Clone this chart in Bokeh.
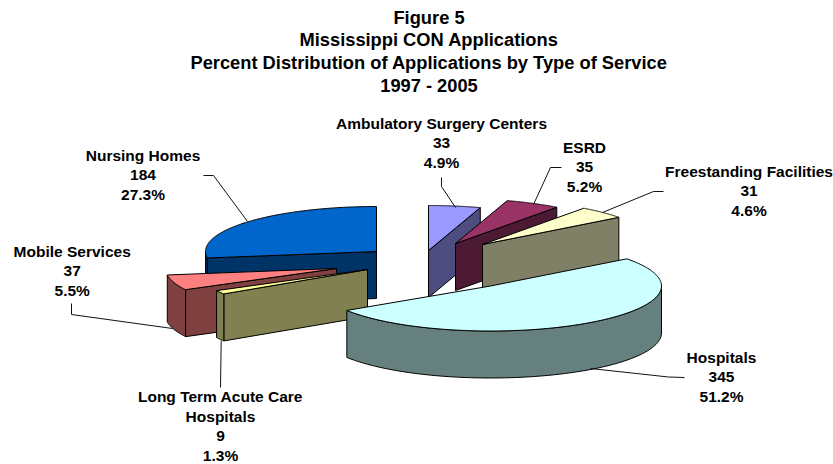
import numpy as np
from bokeh.plotting import figure
from bokeh.models import Range1d, ColumnDataSource
from bokeh.core.properties import value
from bokeh.embed import file_html
from bokeh.resources import INLINE

# ---- data (clockwise from 12 o'clock) ----
categories = ["Ambulatory Surgery Centers", "ESRD", "Freestanding Facilities", "Hospitals",
              "Long Term Acute Care Hospitals", "Mobile Services", "Nursing Homes"]
counts = [33, 35, 31, 345, 9, 37, 184]
percents = ["4.9%", "5.2%", "4.6%", "51.2%", "1.3%", "5.5%", "27.3%"]
title_lines = ["Figure 5", "Mississippi CON Applications",
               "Percent Distribution of Applications by Type of Service", "1997 - 2005"]

# ---- styles and layout ----
top_colors = ["#9999FF", "#993366", "#FFFFCC", "#CCFFFF", "#FFFF99", "#FF8080", "#0066CC"]
side_colors = ["#4D4D80", "#4D1A33", "#808066", "#668080", "#808050", "#804040", "#003366"]
CX, CY = 441.0, 266.5      # pie centre
A, B, DEPTH = 171.0, 45.0, 47.0
explode_dx = [-13, 14, 41, 49, -74, -105, -65]
explode_dy = [-16.5, -23.5, -22.5, 19, 2.5, 1.5, -15.5]
draw_order = [6, 0, 1, 2, 5, 4, 3]
FONT = value("Liberation Sans")

label_lines = [["Ambulatory Surgery Centers"], ["ESRD"], ["Freestanding Facilities"], ["Hospitals"],
               ["Long Term Acute Care", "Hospitals"], ["Mobile Services"], ["Nursing Homes"]]
label_x = [441, 584, 748.5, 721, 220, 71.7, 142.5]
label_y0 = [123, 147, 171, 357, 396, 250.7, 155]
LABEL_STEP = 19.7
leaders = [
    ([441, 441, 455], [177, 186, 207]),
    ([561, 550, 533], [167, 167, 204]),
    ([663, 653, 602], [191, 191, 212]),
    ([684, 668, 590], [377, 376.5, 368]),
    ([220.7, 220], [340, 387]),
    ([71, 71, 172], [303, 314, 328]),
    ([203, 213, 247], [175, 175, 221]),
]

p = figure(width=833, height=464, x_range=Range1d(0, 833), y_range=Range1d(464, 0),
           output_backend="svg", toolbar_location=None, min_border=0,
           background_fill_color="white", border_fill_color="white", outline_line_color=None)
p.axis.visible = False
p.grid.visible = False

total = sum(counts)
edges = np.concatenate([[0.0], np.cumsum(counts) / total * 360.0])


def pt(ax, ay, deg):
    r = np.radians(deg)
    return ax + A * np.sin(r), ay - B * np.cos(r)


def face(xs, ys, color):
    p.patch(list(xs), list(ys), fill_color=color, line_color="black", line_width=1, line_join="round")


for i in draw_order:
    a0, a1 = edges[i], edges[i + 1]
    ax, ay = CX + explode_dx[i], CY + explode_dy[i]
    # cut faces turned toward the viewer
    if a1 < 90:
        ex, ey = pt(ax, ay, a1)
        face([ax, ex, ex, ax], [ay, ey, ey + DEPTH, ay + DEPTH], side_colors[i])
    if 180 < a0 < 270:
        ex, ey = pt(ax, ay, a0)
        face([ax, ex, ex, ax], [ay, ey, ey + DEPTH, ay + DEPTH], side_colors[i])
    # outer wall
    w0, w1 = max(a0, 90.0), min(a1, 270.0)
    if w1 > w0:
        t = np.linspace(w0, w1, 120)
        wx, wy = pt(ax, ay, t)
        face(np.r_[wx, wx[::-1]], np.r_[wy, wy[::-1] + DEPTH], side_colors[i])
    # top
    t = np.linspace(a0, a1, 160)
    tx, ty = pt(ax, ay, t)
    face(np.r_[ax, tx], np.r_[ay, ty], top_colors[i])

for xs, ys in leaders:
    p.line(xs, ys, line_color="#111111", line_width=1)

# labels
tx, ty, tt = [], [], []
for i in range(len(categories)):
    lines = label_lines[i] + [str(counts[i]), percents[i]]
    for k, s in enumerate(lines):
        tx.append(label_x[i]); ty.append(label_y0[i] + k * LABEL_STEP); tt.append(s)
p.text(x="x", y="y", text="t", source=ColumnDataSource(dict(x=tx, y=ty, t=tt)),
       text_font=FONT, text_font_style="bold", text_font_size=value("15.5px"),
       text_align="center", text_baseline="middle", text_color="black")

# title
p.text(x=[428.5] * 4, y=[16.7 + 22.7 * k for k in range(4)], text=title_lines,
       text_font=FONT, text_font_style="bold", text_font_size=value("18.3px"),
       text_align="center", text_baseline="middle", text_color="black")

open("out.html", "w").write(file_html(p, INLINE))
